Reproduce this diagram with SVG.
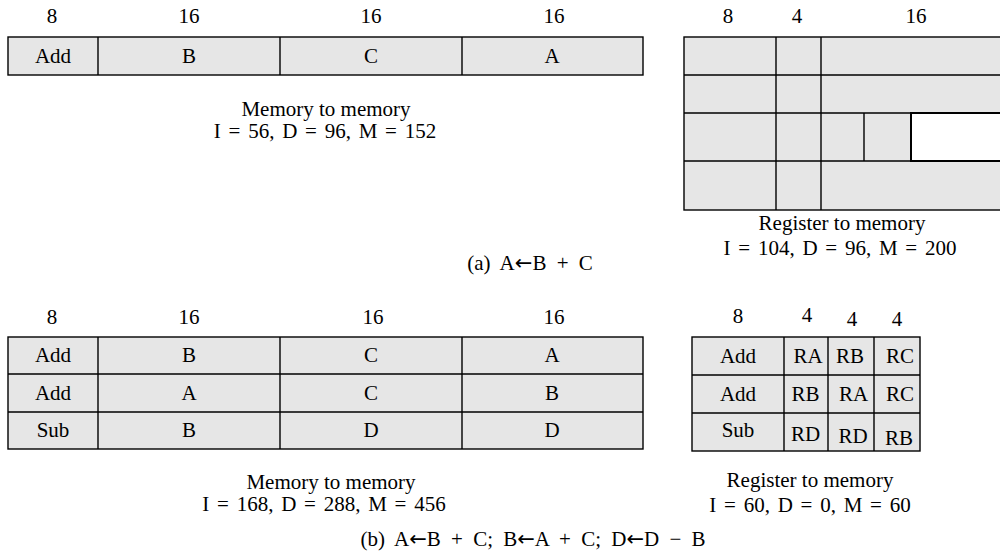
<svg xmlns="http://www.w3.org/2000/svg" width="1000" height="556" viewBox="0 0 1000 556">
<style>
text{font-family:"Liberation Serif","Times New Roman",serif;font-size:21px;fill:#000;text-anchor:middle}
.eq{word-spacing:2.5px}
.cap{word-spacing:5px}
.ar{font-family:"DejaVu Sans",sans-serif;font-size:21px}
.c{fill:#e6e6e6;stroke:#000;stroke-width:1.4}
.w{fill:#fff;stroke:#000;stroke-width:2}
.l{stroke:#000;stroke-width:1.4;fill:none}
</style>
<rect width="1000" height="556" fill="#fff"/>

<g id="mem-a">
<text x="52" y="23">8</text><text x="189" y="23">16</text><text x="371" y="23">16</text><text x="554" y="23">16</text>
<rect class="c" x="8" y="37" width="635" height="38"/>
<path class="l" d="M98 37V75M280 37V75M462 37V75"/>
<text x="53" y="63">Add</text><text x="189" y="63">B</text><text x="371" y="63">C</text><text x="552" y="63">A</text>
<text x="326" y="116">Memory to memory</text>
<text class="eq" x="325" y="138">I = 56, D = 96, M = 152</text>
</g>

<g id="reg-a">
<text x="728" y="23">8</text><text x="797" y="23">4</text><text x="916" y="23">16</text>
<rect class="c" x="684" y="37" width="330" height="173"/>
<path class="l" d="M684 75H1014M684 113H1014M684 161H1014M776 37V210M821 37V210M864 113V161"/>
<rect class="w" x="911" y="113" width="100" height="48"/>
<text x="842" y="230">Register to memory</text>
<text class="eq" x="840" y="255">I = 104, D = 96, M = 200</text>
</g>

<g id="caption-a">
<text class="cap" x="530" y="270">(a) A<tspan class="ar">←</tspan>B + C</text>
</g>

<g id="mem-b">
<text x="52" y="324">8</text><text x="189" y="324">16</text><text x="373" y="324">16</text><text x="554" y="324">16</text>
<rect class="c" x="8" y="337" width="635" height="112"/>
<path class="l" d="M8 374H643M8 412H643M98 337V449M280 337V449M462 337V449"/>
<text x="53" y="362">Add</text><text x="189" y="362">B</text><text x="371" y="362">C</text><text x="552" y="362">A</text>
<text x="53" y="400">Add</text><text x="189" y="400">A</text><text x="371" y="400">C</text><text x="552" y="400">B</text>
<text x="53" y="437">Sub</text><text x="189" y="437">B</text><text x="371" y="437">D</text><text x="552" y="437">D</text>
<text x="331" y="489">Memory to memory</text>
<text class="eq" x="324" y="511">I = 168, D = 288, M = 456</text>
</g>

<g id="reg-b">
<text x="738" y="323">8</text><text x="807" y="322">4</text><text x="852" y="326">4</text><text x="897" y="326">4</text>
<rect class="c" x="692" y="337" width="228" height="114"/>
<path class="l" d="M692 375H920M692 413H920M784 337V451M828 337V451M874 337V451"/>
<text x="738" y="363">Add</text><text x="808" y="363">RA</text><text x="850" y="363">RB</text><text x="900" y="363">RC</text>
<text x="738" y="401">Add</text><text x="805.5" y="401">RB</text><text x="853.5" y="401">RA</text><text x="900" y="401">RC</text>
<text x="738" y="437">Sub</text><text x="805.5" y="441">RD</text><text x="853" y="443">RD</text><text x="899" y="445">RB</text>
<text x="810" y="487">Register to memory</text>
<text class="eq" x="810" y="512">I = 60, D = 0, M = 60</text>
</g>

<g id="caption-b">
<text class="cap" x="533" y="546">(b) A<tspan class="ar">←</tspan>B + C; B<tspan class="ar">←</tspan>A + C; D<tspan class="ar">←</tspan>D − B</text>
</g>

<g id="connectors"></g>
</svg>
